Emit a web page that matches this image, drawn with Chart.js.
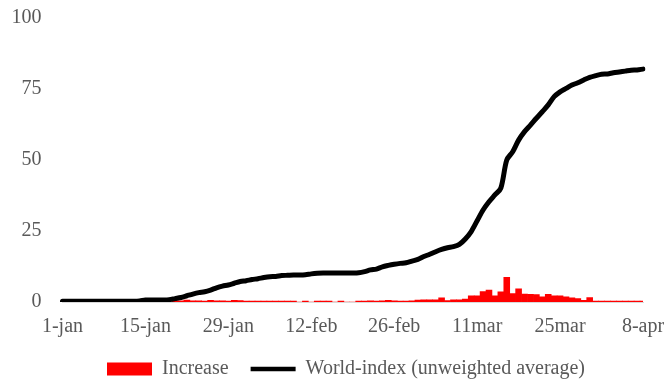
<!DOCTYPE html>
<html>
<head>
<meta charset="utf-8">
<script src="https://cdn.jsdelivr.net/npm/chart.js@4"></script>
<style>
    html, body { margin: 0; padding: 0; background: #ffffff; }
    #wrap { width: 666px; height: 381px; }
</style>
</head>
<body>
<div id="wrap"><canvas id="worldIndexChart"></canvas></div>
<script>
// Days from 1 jan to 8 apr (2020 is a leap year)
const monthNames = ['jan', 'feb', 'mar', 'apr'];
const monthDays = [31, 29, 31, 8];
const categories = [];
monthNames.forEach((m, i) => {
    for (let d = 1; d <= monthDays[i]; d++) {
        categories.push(d + '-' + m);
    }
});

// Labels shown on the x axis, one every two weeks
const tickLabels = ['1-jan', '15-jan', '29-jan', '12-feb', '26-feb', '11mar', '25mar', '8-apr'];
const tickEvery = 14;

// Daily increase (red bars)
const increase = [
    0, 0, 0, 0, 0, 0, 0, 0, 0, 0,
    0, 0, 0, 0, 0.4, 0, 0, 0, 0, 0.4,
    0.4, 0.7, 0.4, 0.4, 0.3, 0.6, 0.4, 0.4, 0.3, 0.6,
    0.5, 0.3, 0.3, 0.3, 0.3, 0.3, 0.3, 0.3, 0.3, 0.3,
    0, 0.3, 0, 0.3, 0.3, 0.3, 0, 0.3, 0, 0,
    0.3, 0.3, 0.4, 0.3, 0.4, 0.6, 0.4, 0.3, 0.3, 0.4,
    0.7, 0.8, 0.8, 0.8, 1.5, 0.5, 0.8, 0.8, 1.0, 2.2,
    2.2, 3.7, 4.2, 2.2, 3.6, 8.7, 3.0, 4.6, 2.8, 2.7,
    2.6, 1.8, 2.7, 2.2, 2.2, 1.8, 1.5, 1.2, 0.6, 1.6,
    0.3, 0.3, 0.3, 0.3, 0.3, 0.3, 0.3, 0.3, 0.3
];

// World-index, unweighted average (black line)
const worldIndex = [
    0.3, 0.3, 0.3, 0.3, 0.3, 0.3, 0.3, 0.3, 0.3, 0.3,
    0.3, 0.3, 0.3, 0.4, 0.7, 0.7, 0.7, 0.7, 0.8, 1.2,
    1.6, 2.2, 2.8, 3.3, 3.6, 4.2, 5.0, 5.6, 6.0, 6.6,
    7.2, 7.5, 7.9, 8.2, 8.6, 8.9, 9.0, 9.3, 9.4, 9.5,
    9.5, 9.6, 9.9, 10.1, 10.2, 10.2, 10.2, 10.2, 10.2, 10.2,
    10.3, 10.7, 11.3, 11.6, 12.4, 12.9, 13.3, 13.6, 13.8, 14.4,
    15.0, 16.0, 16.8, 17.7, 18.5, 19.1, 19.5, 20.3, 22.2, 24.8,
    28.6, 32.4, 35.3, 37.7, 40.1, 50.0, 52.9, 57.0, 60.0, 62.3,
    64.7, 67.0, 69.4, 72.3, 74.0, 75.2, 76.4, 77.2, 78.2, 79.1,
    79.7, 80.2, 80.3, 80.7, 81.0, 81.3, 81.6, 81.7, 82.0
];

const textColor = '#595959';
const fontFamily = "'Liberation Serif', 'Times New Roman', serif";
const fontSize = 20;

document.addEventListener('DOMContentLoaded', function() {
    const ctx = document.getElementById('worldIndexChart').getContext('2d');

    new Chart(ctx, {
        type: 'bar',
        data: {
            labels: categories,
            datasets: [
                {
                    type: 'bar',
                    label: 'Increase',
                    data: increase,
                    backgroundColor: '#ff0000',
                    borderColor: '#ff0000',
                    borderWidth: 0,
                    barPercentage: 1,
                    categoryPercentage: 1,
                    pointStyle: 'rect',
                    order: 1
                },
                {
                    type: 'line',
                    label: 'World-index (unweighted average)',
                    data: worldIndex,
                    borderColor: '#000000',
                    borderWidth: 5,
                    borderCapStyle: 'round',
                    borderJoinStyle: 'round',
                    tension: 0.3,
                    pointRadius: 0,
                    pointHoverRadius: 0,
                    pointStyle: 'line',
                    pointBorderColor: '#000000',
                    pointBorderWidth: 4.5,
                    fill: false,
                    order: 0
                }
            ]
        },
        options: {
            responsive: true,
            maintainAspectRatio: false,
            animation: false,
            layout: {
                padding: { left: 26, right: 0, top: 18, bottom: 0 }
            },
            plugins: {
                legend: {
                    position: 'bottom',
                    maxHeight: 44,
                    labels: {
                        usePointStyle: true,
                        pointStyleWidth: 45,
                        boxHeight: 13,
                        padding: 22,
                        color: textColor,
                        font: { family: fontFamily, size: fontSize },
                        sort: (a, b) => a.datasetIndex - b.datasetIndex
                    }
                },
                tooltip: { enabled: false }
            },
            scales: {
                x: {
                    offset: false,
                    // tick marks are hidden, their length only spaces the labels
                    grid: { display: false, drawTicks: true, tickLength: 13 },
                    border: { display: true, color: '#d9d9d9', width: 1 },
                    afterFit: scale => { scale.height = 35; },
                    ticks: {
                        autoSkip: false,
                        maxRotation: 0,
                        padding: 0,
                        color: textColor,
                        font: { family: fontFamily, size: fontSize },
                        callback: function(value, index) {
                            return index % tickEvery === 0 ? tickLabels[index / tickEvery] : '';
                        }
                    }
                },
                y: {
                    min: 0,
                    max: 100,
                    grid: { display: false, drawTicks: false },
                    border: { display: false },
                    afterFit: scale => { scale.width = 36.5; },
                    ticks: {
                        stepSize: 25,
                        mirror: true,
                        crossAlign: 'far',
                        padding: -51,
                        color: textColor,
                        font: { family: fontFamily, size: fontSize }
                    }
                },
                // empty axis on the right, keeps the plot edge where the original has it
                yRight: {
                    type: 'linear',
                    position: 'right',
                    grid: { display: false, drawTicks: false },
                    border: { display: false },
                    ticks: { display: false },
                    afterFit: scale => { scale.width = 23; }
                }
            }
        }
    });
});
</script>
</body>
</html>
